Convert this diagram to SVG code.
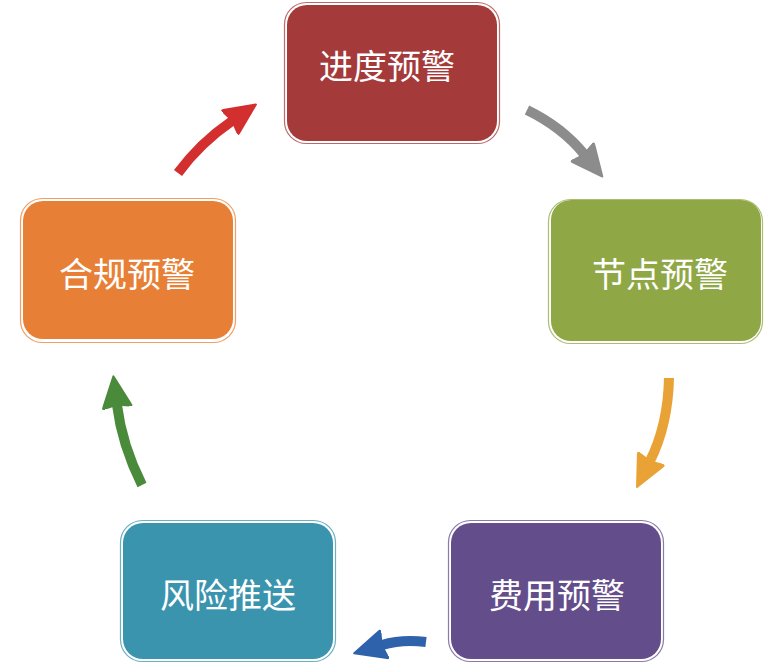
<svg xmlns="http://www.w3.org/2000/svg" width="784" height="672" viewBox="0 0 784 672">
<style>
.outer{fill:#fff;stroke-width:1.2;stroke-opacity:0.75}
.lbl{font-family:"Noto Sans CJK SC","Noto Sans",sans-serif;font-size:34px;fill:#fff;text-anchor:middle}
.arr{fill:none;stroke-width:10}
</style>
<defs>
<marker id="hR" markerUnits="userSpaceOnUse" markerWidth="34" markerHeight="34" viewBox="0 0 34 34" refX="3" refY="17" orient="auto"><path d="M2,3 Q0,2 1,5 L3,15 L3,19 L1,29 Q0,32 2,31 L32,17 Z" fill="#D32F2F" stroke="#D32F2F" stroke-width="2" stroke-linejoin="round"/></marker>
<marker id="hG" markerUnits="userSpaceOnUse" markerWidth="34" markerHeight="34" viewBox="0 0 34 34" refX="3" refY="17" orient="auto"><path d="M2,3 Q0,2 1,5 L3,15 L3,19 L1,29 Q0,32 2,31 L32,17 Z" fill="#8C8C8C" stroke="#8C8C8C" stroke-width="2" stroke-linejoin="round"/></marker>
<marker id="hO" markerUnits="userSpaceOnUse" markerWidth="34" markerHeight="34" viewBox="0 0 34 34" refX="3" refY="17" orient="auto"><path d="M2,3 Q0,2 1,5 L3,15 L3,19 L1,29 Q0,32 2,31 L32,17 Z" fill="#E9A235" stroke="#E9A235" stroke-width="2" stroke-linejoin="round"/></marker>
<marker id="hB" markerUnits="userSpaceOnUse" markerWidth="34" markerHeight="34" viewBox="0 0 34 34" refX="3" refY="17" orient="auto"><path d="M2,3 Q0,2 1,5 L3,15 L3,19 L1,29 Q0,32 2,31 L32,17 Z" fill="#2E62AA" stroke="#2E62AA" stroke-width="2" stroke-linejoin="round"/></marker>
<marker id="hN" markerUnits="userSpaceOnUse" markerWidth="34" markerHeight="34" viewBox="0 0 34 34" refX="3" refY="17" orient="auto"><path d="M2,3 Q0,2 1,5 L3,15 L3,19 L1,29 Q0,32 2,31 L32,17 Z" fill="#4A8B3B" stroke="#4A8B3B" stroke-width="2" stroke-linejoin="round"/></marker>
</defs>

<g id="node-jindu">
<rect class="outer" x="284.5" y="2.5" width="215" height="141" rx="22" stroke="#A53A3B"/>
<rect x="287" y="5" width="210" height="136" rx="20" fill="#A53A3B"/>
<text class="lbl" x="387" y="79">进度预警</text>
</g>
<g id="node-jiedian">
<rect class="outer" x="548.5" y="199.5" width="214" height="144" rx="22" stroke="#8FA745"/>
<rect x="551" y="200" width="210" height="141" rx="20" fill="#8FA745"/>
<text class="lbl" x="660" y="287">节点预警</text>
</g>
<g id="node-feiyong">
<rect class="outer" x="448.5" y="520.5" width="215" height="141" rx="22" stroke="#634E8B"/>
<rect x="451" y="523" width="210" height="136" rx="20" fill="#634E8B"/>
<text class="lbl" x="557" y="608">费用预警</text>
</g>
<g id="node-fengxian">
<rect class="outer" x="120.5" y="520.5" width="215" height="141" rx="22" stroke="#3B94AE"/>
<rect x="123" y="523" width="210" height="136" rx="20" fill="#3B94AE"/>
<text class="lbl" x="228" y="608">风险推送</text>
</g>
<g id="node-hegui">
<rect class="outer" x="20.5" y="198.5" width="215" height="144" rx="22" stroke="#E87F37"/>
<rect x="23" y="201" width="210" height="138" rx="20" fill="#E87F37"/>
<text class="lbl" x="127" y="287">合规预警</text>
</g>

<g id="connectors">
<path class="arr" d="M178,173 Q200,143 232,121" stroke="#D32F2F" marker-end="url(#hR)"/>
<path class="arr" d="M527,110 Q562,127 584,154" stroke="#8C8C8C" marker-end="url(#hG)"/>
<path class="arr" d="M669,378 Q668,425 650,461" stroke="#E9A235" marker-end="url(#hO)"/>
<path class="arr" d="M426,642 Q402,639 382,645" stroke="#2E62AA" marker-end="url(#hB)"/>
<path class="arr" d="M142,485 Q122,445 117,405" stroke="#4A8B3B" marker-end="url(#hN)"/>
</g>
</svg>
